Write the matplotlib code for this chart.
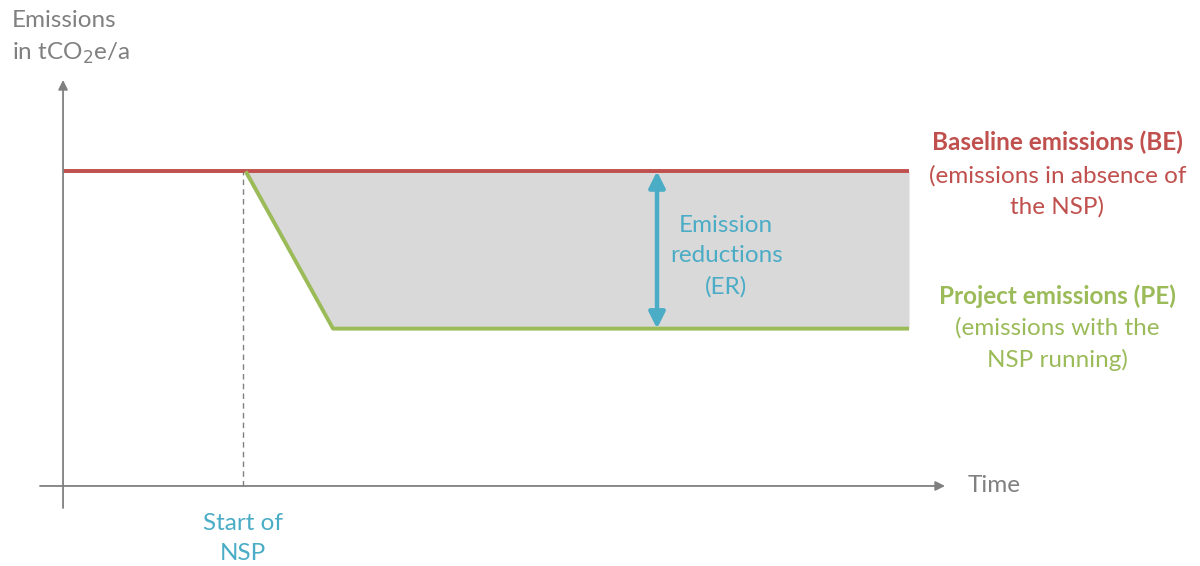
import matplotlib
matplotlib.use('Agg')
import matplotlib.pyplot as plt

# schematic values (time in arbitrary units, emissions as % of baseline)
time_start = 2.0        # start of the NSP
time_ramp_end = 3.0     # project emissions reach their final level
time_end = 9.4
time_er = 6.6           # where the ER arrow is drawn
baseline = 100
project = 50

red = '#C0504D'
green = '#9BBB59'
blue = '#4BACC6'
grey = '#808080'

plt.rcParams['font.family'] = ['Lato', 'DejaVu Sans']

fig = plt.figure(figsize=(12, 5.66), dpi=100)
ax = fig.add_axes([40 / 1200, 58 / 566, 905 / 1200, 428 / 566])
ax.set_xlim(-0.256, 9.8)
ax.set_ylim(-7, 129)
ax.axis('off')

# axes with arrows
ax.annotate('', xy=(9.8, 0), xytext=(-0.256, 0),
            arrowprops=dict(arrowstyle='-|>', color=grey, lw=1.3,
                            mutation_scale=14, shrinkA=0, shrinkB=0))
ax.annotate('', xy=(0, 129), xytext=(0, -7),
            arrowprops=dict(arrowstyle='-|>', color=grey, lw=1.3,
                            mutation_scale=14, shrinkA=0, shrinkB=0))

# shaded emission reductions
ax.fill_between([time_start, time_ramp_end, time_end],
                [baseline, project, project],
                [baseline, baseline, baseline],
                color='#D9D9D9', lw=0)

# start of NSP
ax.plot([time_start, time_start], [0, baseline], color=grey, lw=1, ls=(0, (4, 3)))

# baseline and project lines
ax.plot([0, time_end], [baseline, baseline], color=red, lw=2.8, solid_capstyle='butt')
ax.plot([time_start + 0.03, time_ramp_end, time_end], [baseline, project, project],
        color=green, lw=2.8, solid_capstyle='butt')

# ER arrow
ax.annotate('', xy=(time_er, baseline), xytext=(time_er, project),
            arrowprops=dict(arrowstyle='<|-|>', color=blue, lw=3.2,
                            mutation_scale=24, shrinkA=0, shrinkB=0))

fs = 17.5
ls = 1.55
ax.text(time_er + 0.77, 73, 'Emission\nreductions\n(ER)',
        ha='center', va='center', color=blue, fontsize=fs, linespacing=ls)

ax.text(11.05, 109.3, 'Baseline emissions (BE)', ha='center', va='center',
        color=red, fontsize=fs, fontweight='bold')
ax.text(11.05, 93.6, '(emissions in absence of\nthe NSP)', ha='center', va='center',
        color=red, fontsize=fs, linespacing=ls)

ax.text(11.05, 60.4, 'Project emissions (PE)', ha='center', va='center',
        color=green, fontsize=fs, fontweight='bold')
ax.text(11.05, 45.1, '(emissions with the\nNSP running)', ha='center', va='center',
        color=green, fontsize=fs, linespacing=ls)

ax.text(time_start, -16.7, 'Start of\nNSP', ha='center', va='center',
        color=blue, fontsize=fs, linespacing=ls)

ax.text(10.05, 0, 'Time', ha='left', va='center', color=grey, fontsize=fs)

fig.text(12 / 1200, 1 - 38 / 566, 'Emissions\nin tCO$_2$e/a', ha='left', va='center',
         color=grey, fontsize=fs, linespacing=ls)

fig.savefig('out.png', dpi=100)
